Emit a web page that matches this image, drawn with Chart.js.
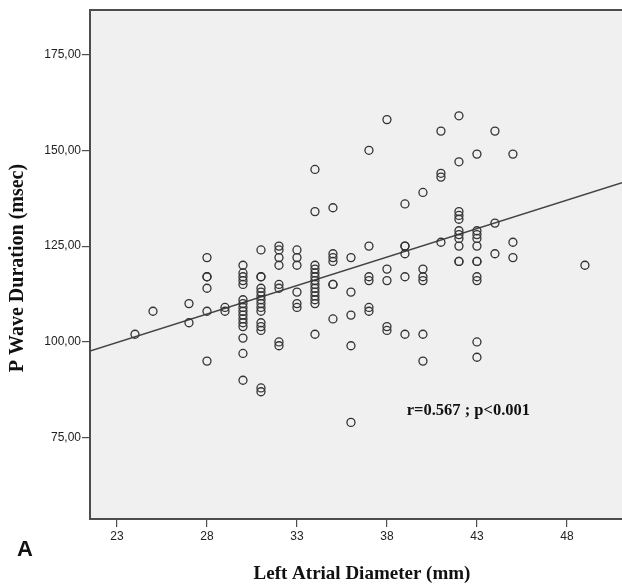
<!DOCTYPE html>
<html>
<head>
<meta charset="utf-8">
<script src="https://cdn.jsdelivr.net/npm/chart.js@4.4.0/dist/chart.umd.min.js"></script>
<style>
  html, body { margin: 0; padding: 0; background: #fff; }
  #wrap { width: 622px; height: 585px; }
</style>
</head>
<body>
<div id="wrap"><canvas id="scatter" width="622" height="585"></canvas></div>
<script>
// left atrial diameter (mm) and the P wave durations (msec) measured at each one
const diameters = [24, 25, 27, 28, 29, 30, 31, 32, 33, 34, 35, 36, 37, 38, 39, 40, 41, 42, 43, 44, 45, 49];
const durationsByDiameter = [
  [102],
  [108],
  [110, 105],
  [122, 117, 117, 114, 108, 95],
  [109, 108],
  [120, 118, 117, 116, 115, 111, 110, 109, 108, 107, 106, 105, 104, 101, 97, 90],
  [124, 117, 117, 114, 113, 112, 111, 110, 109, 108, 105, 104, 103, 88, 87],
  [125, 124, 122, 120, 115, 114, 100, 99],
  [124, 122, 120, 113, 110, 109],
  [145, 134, 120, 119, 118, 117, 116, 115, 114, 113, 112, 111, 110, 102],
  [135, 123, 122, 121, 115, 115, 106],
  [122, 113, 107, 99, 79],
  [150, 125, 117, 116, 109, 108],
  [158, 119, 116, 104, 103],
  [136, 125, 125, 123, 117, 102],
  [139, 119, 117, 116, 102, 95],
  [155, 144, 143, 126],
  [159, 147, 134, 133, 132, 129, 128, 127, 125, 121, 121],
  [149, 129, 128, 127, 125, 121, 121, 117, 116, 100, 96],
  [155, 131, 123],
  [149, 126, 122],
  [120]
];

const xTicks = [23, 28, 33, 38, 43, 48];
const yTicks = [75, 100, 125, 150, 175];

// linear fit line
const fitIntercept = 65.7;
const fitSlope = 1.485;
const statText = 'r=0.567 ; p<0.001';

const xMin = 21.5, xMax = 51.06;
const yMin = 53.8, yMax = 186.6;

const points = [];
diameters.forEach((d, i) => {
  durationsByDiameter[i].forEach(v => points.push({ x: d, y: v }));
});
const fitLine = [xMin, xMax].map(x => ({ x: x, y: fitIntercept + fitSlope * x }));

const frame = '#4d4d4d';
const tickFont = { family: '"Liberation Sans", Arial, sans-serif', size: 12 };

const plotDecor = {
  id: 'plotDecor',
  beforeDraw(chart) {
    const { ctx, chartArea: a } = chart;
    ctx.save();
    ctx.fillStyle = '#f0f0f0';
    ctx.fillRect(a.left, a.top, a.right - a.left, a.bottom - a.top);
    ctx.restore();
  },
  afterDraw(chart) {
    const { ctx, chartArea: a, scales } = chart;
    ctx.save();
    // top edge of the frame
    ctx.strokeStyle = frame;
    ctx.lineWidth = 2;
    ctx.beginPath();
    ctx.moveTo(a.left - 1, a.top);
    ctx.lineTo(a.right, a.top);
    ctx.stroke();

    ctx.fillStyle = '#111';
    ctx.font = 'bold 16.5px "Liberation Serif", "Times New Roman", serif';
    ctx.textBaseline = 'alphabetic';
    ctx.textAlign = 'left';
    ctx.fillText(statText, scales.x.getPixelForValue(39.1), scales.y.getPixelForValue(81));

    ctx.textAlign = 'center';
    ctx.textBaseline = 'middle';
    ctx.font = 'bold 19px "Liberation Serif", "Times New Roman", serif';
    ctx.fillText('Left Atrial Diameter (mm)', 362, 574);

    ctx.font = 'bold 20px "Liberation Serif", "Times New Roman", serif';
    ctx.translate(18, 268);
    ctx.rotate(-Math.PI / 2);
    ctx.fillText('P Wave Duration (msec)', 0, 0);
    ctx.restore();

    ctx.save();
    ctx.fillStyle = '#111';
    ctx.font = 'bold 22px "Liberation Sans", Arial, sans-serif';
    ctx.textAlign = 'left';
    ctx.textBaseline = 'alphabetic';
    ctx.fillText('A', 17, 556);
    ctx.restore();
  }
};

new Chart(document.getElementById('scatter'), {
  type: 'scatter',
  data: {
    datasets: [
      {
        data: points,
        pointStyle: 'circle',
        pointRadius: 4,
        pointHoverRadius: 4,
        backgroundColor: 'rgba(0,0,0,0)',
        borderColor: '#333',
        borderWidth: 1.3
      },
      {
        type: 'line',
        data: fitLine,
        borderColor: '#444',
        borderWidth: 1.4,
        pointRadius: 0,
        fill: false
      }
    ]
  },
  options: {
    responsive: false,
    animation: false,
    devicePixelRatio: 1,
    layout: { autoPadding: false, padding: { top: 10, left: 0, right: 0, bottom: 0 } },
    plugins: {
      legend: { display: false },
      tooltip: { enabled: false }
    },
    scales: {
      x: {
        type: 'linear',
        min: xMin,
        max: xMax,
        afterFit: s => { s.height = 66; },
        afterBuildTicks: s => { s.ticks = xTicks.map(v => ({ value: v })); },
        grid: { drawOnChartArea: false, drawTicks: true, tickLength: 8, color: frame, lineWidth: 1.2 },
        border: { display: true, color: frame, width: 2 },
        ticks: {
          padding: 2,
          color: '#222',
          font: tickFont,
          callback: v => String(v)
        }
      },
      y: {
        type: 'linear',
        min: yMin,
        max: yMax,
        afterFit: s => { s.width = 90; },
        afterBuildTicks: s => { s.ticks = yTicks.map(v => ({ value: v })); },
        grid: { drawOnChartArea: false, drawTicks: true, tickLength: 8, color: frame, lineWidth: 1.2 },
        border: { display: true, color: frame, width: 2 },
        ticks: {
          padding: 1,
          color: '#222',
          font: tickFont,
          callback: v => v.toFixed(2).replace('.', ',')
        }
      }
    }
  },
  plugins: [plotDecor]
});
</script>
</body>
</html>
